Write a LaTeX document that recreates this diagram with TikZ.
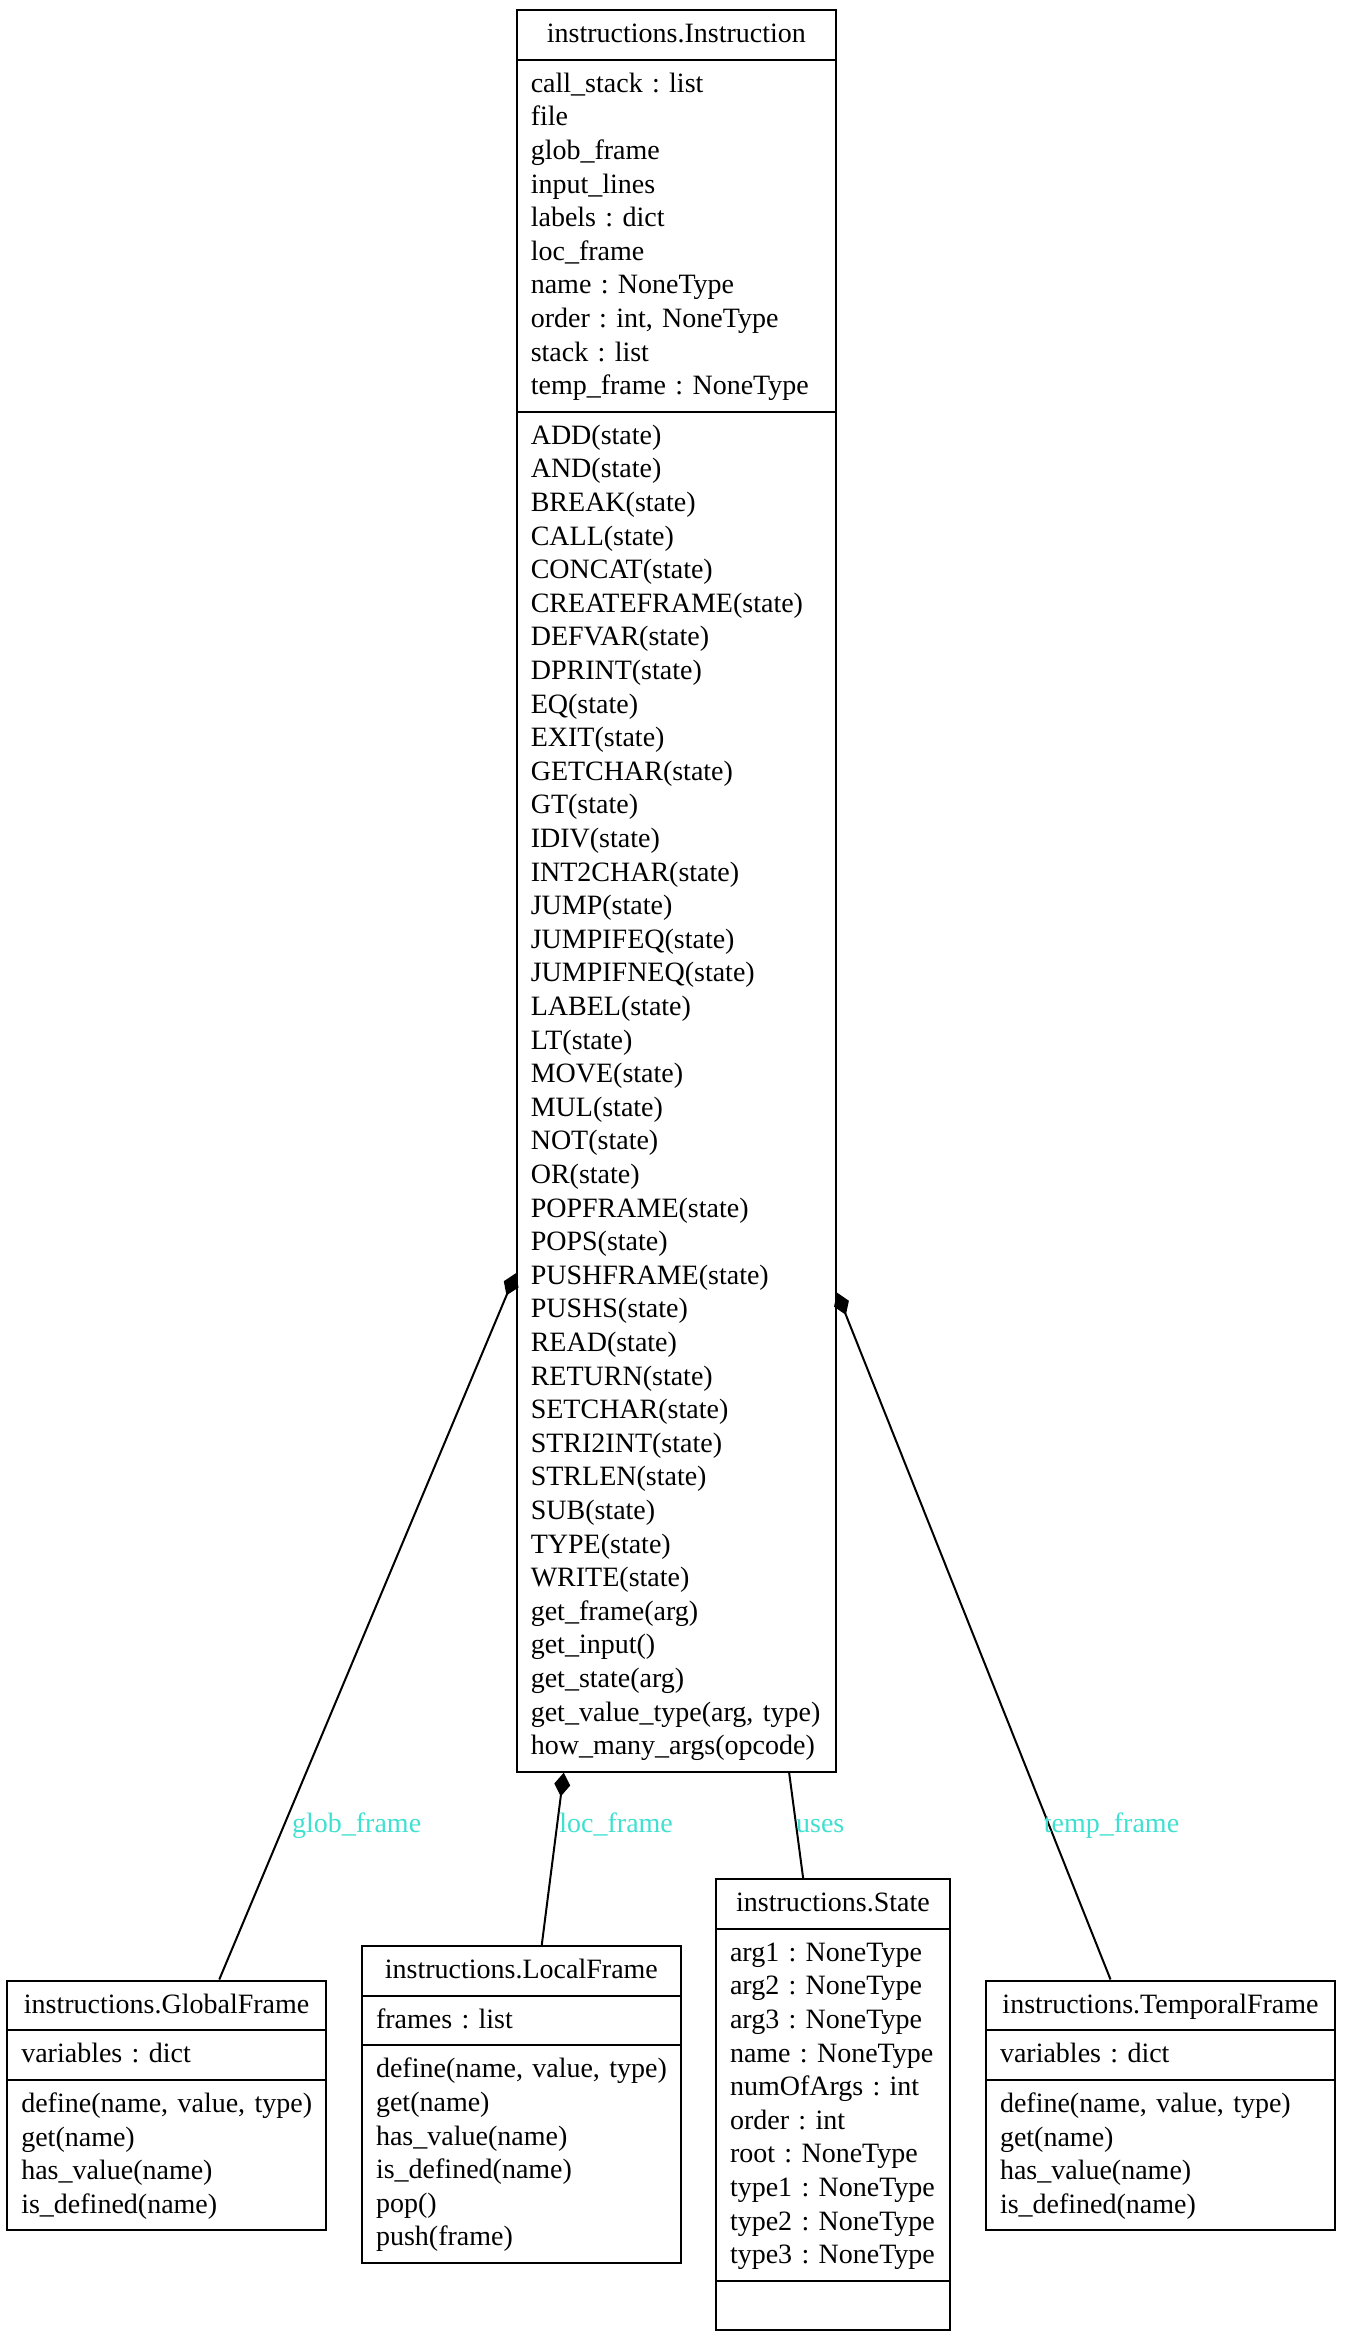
\documentclass[tikz,border=0pt]{standalone}
\usepackage{fontspec}
\setmainfont{Liberation Serif}
\usetikzlibrary{shapes.multipart,arrows.meta}
\definecolor{turq}{RGB}{64,224,208}
\newcommand{\umlstrut}{\rule[-4.45pt]{0pt}{16.8pt}}
\newcommand{\umlhead}{\centering\umlstrut}
\newcommand{\umlbody}{\raggedright\leftskip=2pt\umlstrut}
\newcommand{\umlend}{\umlstrut\par}
\setlength{\parindent}{0pt}
\hyphenpenalty=10000
\frenchspacing
\begin{document}
\begin{tikzpicture}[x=0.5pt,y=-0.5pt,
    umlclass/.style={rectangle split,rectangle split parts=3,draw,line width=1pt,
      inner xsep=5pt,inner ysep=3.5pt,anchor=north,
      font=\fontsize{14pt}{16.8pt}\selectfont\frenchspacing},
    compose/.style={-{Diamond[length=12pt,width=8pt]},line width=1pt},
    uses/.style={-,line width=1pt},
    edgelabel/.style={anchor=base west,inner sep=0pt,text=turq,
      font=\fontsize{14pt}{16.8pt}\selectfont}]
  \useasboundingbox (0,0) rectangle (1344,2338);
  % classes
  \node [umlclass,text width=149.6pt] at (676.4,9) (instr) {\umlhead instructions.Instruction\umlend
    \nodepart{two}\umlbody call\_stack : list\\ file\\ glob\_frame\\ input\_lines\\ labels : dict\\
      loc\_frame\\ name : NoneType\\ order : int, NoneType\\ stack : list\\ temp\_frame : NoneType\umlend
    \nodepart{three}\umlbody ADD(state)\\ AND(state)\\ BREAK(state)\\ CALL(state)\\ CONCAT(state)\\
      CREATEFRAME(state)\\ DEFVAR(state)\\ DPRINT(state)\\ EQ(state)\\ EXIT(state)\\ GETCHAR(state)\\
      GT(state)\\ IDIV(state)\\ INT2CHAR(state)\\ JUMP(state)\\ JUMPIFEQ(state)\\ JUMPIFNEQ(state)\\
      LABEL(state)\\ LT(state)\\ MOVE(state)\\ MUL(state)\\ NOT(state)\\ OR(state)\\ POPFRAME(state)\\
      POPS(state)\\ PUSHFRAME(state)\\ PUSHS(state)\\ READ(state)\\ RETURN(state)\\ SETCHAR(state)\\
      STRI2INT(state)\\ STRLEN(state)\\ SUB(state)\\ TYPE(state)\\ WRITE(state)\\ get\_frame(arg)\\
      get\_input()\\ get\_state(arg)\\ get\_value\_type(arg, type)\\ how\_many\_args(opcode)\umlend};
  \node [umlclass,text width=149.35pt] at (166.65,1979.5) (glob) {\umlhead instructions.GlobalFrame\umlend
    \nodepart{two}\umlbody variables : dict\umlend
    \nodepart{three}\umlbody define(name, value, type)\\ get(name)\\ has\_value(name)\\ is\_defined(name)\umlend};
  \node [umlclass,text width=149.35pt] at (521.4,1945) (loc) {\umlhead instructions.LocalFrame\umlend
    \nodepart{two}\umlbody frames : list\umlend
    \nodepart{three}\umlbody define(name, value, type)\\ get(name)\\ has\_value(name)\\ is\_defined(name)\\
      pop()\\ push(frame)\umlend};
  \node [umlclass,text width=107pt] at (833,1878) (state) {\umlhead instructions.State\umlend
    \nodepart{two}\umlbody arg1 : NoneType\\ arg2 : NoneType\\ arg3 : NoneType\\ name : NoneType\\
      numOfArgs : int\\ order : int\\ root : NoneType\\ type1 : NoneType\\ type2 : NoneType\\
      type3 : NoneType\umlend
    \nodepart{three}\umlstrut\par};
  \node [umlclass,text width=164.5pt] at (1160.5,1979.5) (temp) {\umlhead instructions.TemporalFrame\umlend
    \nodepart{two}\umlbody variables : dict\umlend
    \nodepart{three}\umlbody define(name, value, type)\\ get(name)\\ has\_value(name)\\ is\_defined(name)\umlend};
  % associations
  \draw [compose] (glob) to (instr);
  \draw [compose] (loc) to (instr);
  \draw [uses] (state) to (instr);
  \draw [compose] (temp) to (instr);
  \node [edgelabel] at (291.7,1832) (lglob) {glob\_frame};
  \node [edgelabel] at (559,1832) (lloc) {loc\_frame};
  \node [edgelabel] at (795.7,1832) (luses) {uses};
  \node [edgelabel] at (1043.5,1832) (ltemp) {temp\_frame};
\end{tikzpicture}
\end{document}
